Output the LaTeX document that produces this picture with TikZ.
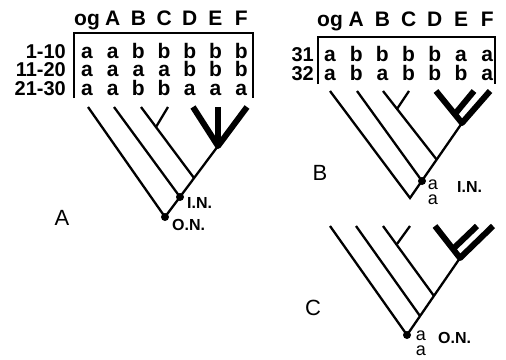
\documentclass[tikz,border=0pt]{standalone}
\usepackage{fontspec}
\setmainfont{Liberation Sans}
\tikzset{
  hdr/.style={anchor=base,inner sep=0pt,text height=15pt,text depth=0pt,font=\fontsize{21}{21}\selectfont\bfseries},
  val/.style={anchor=base,inner sep=0pt,text height=15pt,text depth=0pt,font=\fontsize{21}{21}\selectfont\bfseries},
  rowlab/.style={anchor=base east,inner sep=0pt,text height=14pt,text depth=0pt,font=\fontsize{20}{20}\selectfont\bfseries},
  nlab/.style={anchor=base west,inner sep=0pt,text height=11pt,text depth=0pt,font=\fontsize{16}{16}\selectfont\bfseries},
  alab/.style={anchor=base,inner sep=0pt,text height=10pt,text depth=0pt,font=\fontsize{18}{18}\selectfont},
  plab/.style={inner sep=0pt,font=\fontsize{22}{22}\selectfont},
  dot/.style={circle,fill,inner sep=0pt,minimum size=8pt},
  branch/.style={line width=2.3pt},
  fat/.style={line width=6pt,line join=round},
  frame/.style={line width=2pt}
}
\begin{document}
\begin{tikzpicture}[x=1pt,y=-1pt]
\useasboundingbox (0,0) rectangle (506,359);

% table A
\foreach \c [count=\i from 0] in {og,A,B,C,D,E,F}{
\node[hdr] (ha\i) at (87+25.7*\i,25) {\c};
}
\foreach \r/\yy/\vals [count=\k] in {1-10/58/{a,a,b,b,b,b,b},11-20/76.5/{a,a,a,a,b,b,b},21-30/95/{a,a,b,b,a,a,a}}{
\node[rowlab] (ra\k) at (66,\yy) {\r};
\foreach \v [count=\i from 0] in \vals{
\node[val] (va\k\i) at (87+25.7*\i,\yy) {\v};
}
}
\draw[frame] (74,98)--(74,33)--(253,33)--(253,98);

% table B
\foreach \c [count=\i from 0] in {og,A,B,C,D,E,F}{
\node[hdr] (hb\i) at (330+26.2*\i,26.7) {\c};
}
\foreach \r/\yy/\vals [count=\k] in {31/61.7/{a,b,b,b,b,a,a},32/80/{a,b,a,b,b,b,a}}{
\node[rowlab] (rb\k) at (314,\yy) {\r};
\foreach \v [count=\i from 0] in \vals{
\node[val] (vb\k\i) at (330+26.2*\i,\yy) {\v};
}
}
\draw[frame] (318,84)--(318,37)--(495,37)--(495,84);

% tree A
\coordinate (aog) at (88,107);
\coordinate (aa) at (114,107);
\coordinate (ab) at (141,107);
\coordinate (ac) at (168,107);
\coordinate (ad) at (193,107);
\coordinate (ae) at (218,107);
\coordinate (af) at (247,107);
\coordinate (aj) at (218,146);
\coordinate (abj) at (194,178);
\coordinate (acj) at (156,127);
\node[dot] (aon) at (165,217) {};
\node[dot] (ain) at (180,197) {};
\draw[branch] (aog)--(aon.center)--(aj);
\draw[branch] (aa)--(ain.center);
\draw[branch] (ab)--(abj);
\draw[branch] (ac)--(acj);
\draw[fat] (ad)--(aj)--(af);
\draw[fat] (ae)--(aj);
\node[nlab] (ainl) at (187,208) {I.N.};
\node[nlab] (aonl) at (172,230) {O.N.};
\node[plab] (pa) at (62,218) {A};

% tree B
\coordinate (bog) at (330,91);
\coordinate (ba) at (357,91);
\coordinate (bb) at (383,91);
\coordinate (bc) at (409,91);
\coordinate (bd) at (436,91);
\coordinate (be) at (474,91);
\coordinate (bf) at (490,91);
\coordinate (bj) at (462,123);
\coordinate (bbj) at (437,160);
\coordinate (bcj) at (397,109);
\coordinate (bej) at (455,114);
\coordinate (broot) at (410,198);
\node[dot] (bin) at (422,181) {};
\draw[branch] (bog)--(broot)--(bj);
\draw[branch] (ba)--(bin.center);
\draw[branch] (bb)--(bbj);
\draw[branch] (bc)--(bcj);
\draw[fat] (bd)--(bj)--(bf);
\draw[fat] (be)--(bej);
\node[alab] (ba1) at (433,189) {a};
\node[alab] (ba2) at (433,204) {a};
\node[nlab] (binl) at (457,192) {I.N.};
\node[plab] (pb) at (320,173) {B};

% tree C
\coordinate (cog) at (330,226);
\coordinate (ca) at (356,226);
\coordinate (cb) at (383,226);
\coordinate (cc) at (410,226);
\coordinate (cd) at (435,226);
\coordinate (ce) at (477,226);
\coordinate (cf) at (493,226);
\coordinate (cj) at (460,258);
\coordinate (caj) at (420,316);
\coordinate (cbj) at (434,296);
\coordinate (ccj) at (397,244);
\coordinate (cej) at (453,249);
\node[dot] (con) at (407,335) {};
\draw[branch] (cog)--(con.center)--(cj);
\draw[branch] (ca)--(caj);
\draw[branch] (cb)--(cbj);
\draw[branch] (cc)--(ccj);
\draw[fat] (cd)--(cj)--(cf);
\draw[fat] (ce)--(cej);
\node[alab] (ca1) at (421,340) {a};
\node[alab] (ca2) at (421,355) {a};
\node[nlab] (conl) at (438,343) {O.N.};
\node[plab] (pc) at (313,308) {C};

\end{tikzpicture}
\end{document}
